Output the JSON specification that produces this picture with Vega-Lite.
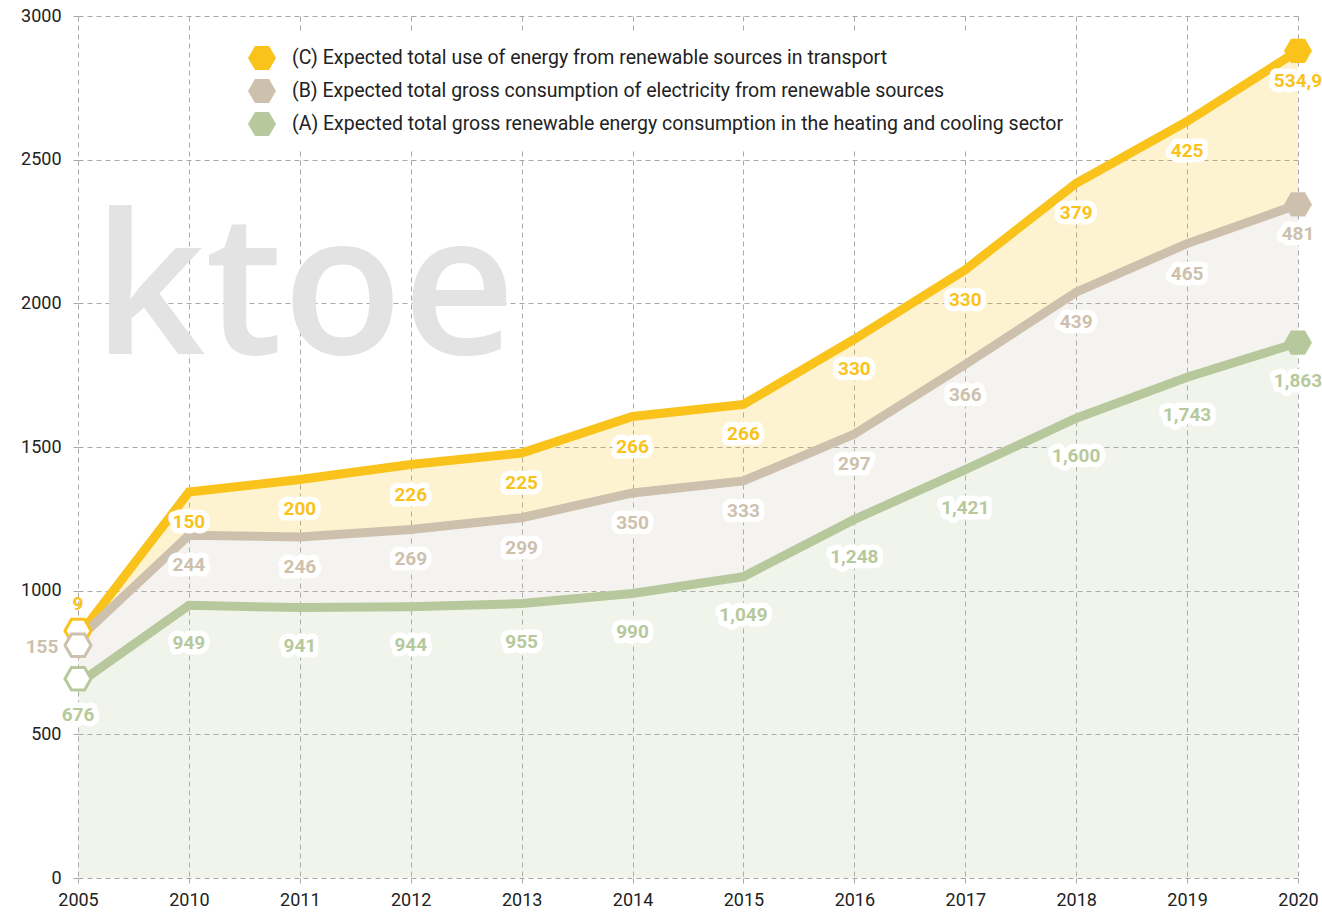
{
  "$schema": "https://vega.github.io/schema/vega-lite/v6.json",
  "width": 1220,
  "height": 862,
  "autosize": {"type": "none"},
  "padding": {"left": 78, "top": 16, "right": 24, "bottom": 37},
  "background": "white",
  "config": {
    "view": {"stroke": null},
    "font": "Roboto",
    "axis": {
      "title": null,
      "domain": false,
      "grid": true,
      "gridDash": [5, 4],
      "gridColor": "#a8a8a8",
      "gridWidth": 1,
      "ticks": true,
      "tickDash": [5, 4],
      "tickColor": "#a8a8a8",
      "tickSize": 8,
      "labelFont": "Roboto",
      "labelFontSize": 18,
      "labelColor": "#222222",
      "labelAngle": 0
    }
  },
  "data": {
    "values": [
      {"year": "2005", "key": "C", "series": "(C) Expected total use of energy from renewable sources in transport", "value": 9, "label": "9"},
      {"year": "2005", "key": "B", "series": "(B) Expected total gross consumption of electricity from renewable sources", "value": 155, "label": "155"},
      {"year": "2005", "key": "A", "series": "(A) Expected total gross renewable energy consumption in the heating and cooling sector", "value": 676, "label": "676"},
      {"year": "2010", "key": "C", "series": "(C) Expected total use of energy from renewable sources in transport", "value": 150, "label": "150"},
      {"year": "2010", "key": "B", "series": "(B) Expected total gross consumption of electricity from renewable sources", "value": 244, "label": "244"},
      {"year": "2010", "key": "A", "series": "(A) Expected total gross renewable energy consumption in the heating and cooling sector", "value": 949, "label": "949"},
      {"year": "2011", "key": "C", "series": "(C) Expected total use of energy from renewable sources in transport", "value": 200, "label": "200"},
      {"year": "2011", "key": "B", "series": "(B) Expected total gross consumption of electricity from renewable sources", "value": 246, "label": "246"},
      {"year": "2011", "key": "A", "series": "(A) Expected total gross renewable energy consumption in the heating and cooling sector", "value": 941, "label": "941"},
      {"year": "2012", "key": "C", "series": "(C) Expected total use of energy from renewable sources in transport", "value": 226, "label": "226"},
      {"year": "2012", "key": "B", "series": "(B) Expected total gross consumption of electricity from renewable sources", "value": 269, "label": "269"},
      {"year": "2012", "key": "A", "series": "(A) Expected total gross renewable energy consumption in the heating and cooling sector", "value": 944, "label": "944"},
      {"year": "2013", "key": "C", "series": "(C) Expected total use of energy from renewable sources in transport", "value": 225, "label": "225"},
      {"year": "2013", "key": "B", "series": "(B) Expected total gross consumption of electricity from renewable sources", "value": 299, "label": "299"},
      {"year": "2013", "key": "A", "series": "(A) Expected total gross renewable energy consumption in the heating and cooling sector", "value": 955, "label": "955"},
      {"year": "2014", "key": "C", "series": "(C) Expected total use of energy from renewable sources in transport", "value": 266, "label": "266"},
      {"year": "2014", "key": "B", "series": "(B) Expected total gross consumption of electricity from renewable sources", "value": 350, "label": "350"},
      {"year": "2014", "key": "A", "series": "(A) Expected total gross renewable energy consumption in the heating and cooling sector", "value": 990, "label": "990"},
      {"year": "2015", "key": "C", "series": "(C) Expected total use of energy from renewable sources in transport", "value": 266, "label": "266"},
      {"year": "2015", "key": "B", "series": "(B) Expected total gross consumption of electricity from renewable sources", "value": 333, "label": "333"},
      {"year": "2015", "key": "A", "series": "(A) Expected total gross renewable energy consumption in the heating and cooling sector", "value": 1049, "label": "1,049"},
      {"year": "2016", "key": "C", "series": "(C) Expected total use of energy from renewable sources in transport", "value": 330, "label": "330"},
      {"year": "2016", "key": "B", "series": "(B) Expected total gross consumption of electricity from renewable sources", "value": 297, "label": "297"},
      {"year": "2016", "key": "A", "series": "(A) Expected total gross renewable energy consumption in the heating and cooling sector", "value": 1248, "label": "1,248"},
      {"year": "2017", "key": "C", "series": "(C) Expected total use of energy from renewable sources in transport", "value": 330, "label": "330"},
      {"year": "2017", "key": "B", "series": "(B) Expected total gross consumption of electricity from renewable sources", "value": 366, "label": "366"},
      {"year": "2017", "key": "A", "series": "(A) Expected total gross renewable energy consumption in the heating and cooling sector", "value": 1421, "label": "1,421"},
      {"year": "2018", "key": "C", "series": "(C) Expected total use of energy from renewable sources in transport", "value": 379, "label": "379"},
      {"year": "2018", "key": "B", "series": "(B) Expected total gross consumption of electricity from renewable sources", "value": 439, "label": "439"},
      {"year": "2018", "key": "A", "series": "(A) Expected total gross renewable energy consumption in the heating and cooling sector", "value": 1600, "label": "1,600"},
      {"year": "2019", "key": "C", "series": "(C) Expected total use of energy from renewable sources in transport", "value": 425, "label": "425"},
      {"year": "2019", "key": "B", "series": "(B) Expected total gross consumption of electricity from renewable sources", "value": 465, "label": "465"},
      {"year": "2019", "key": "A", "series": "(A) Expected total gross renewable energy consumption in the heating and cooling sector", "value": 1743, "label": "1,743"},
      {"year": "2020", "key": "C", "series": "(C) Expected total use of energy from renewable sources in transport", "value": 534.9, "label": "534,9"},
      {"year": "2020", "key": "B", "series": "(B) Expected total gross consumption of electricity from renewable sources", "value": 481, "label": "481"},
      {"year": "2020", "key": "A", "series": "(A) Expected total gross renewable energy consumption in the heating and cooling sector", "value": 1863, "label": "1,863"}
    ]
  },
  "transform": [
    {"stack": "value", "groupby": ["year"], "sort": [{"field": "key", "order": "ascending"}], "as": ["v0", "v1"]}
  ],
  "encoding": {
    "x": {
      "field": "year",
      "type": "ordinal",
      "sort": null,
      "scale": {"type": "point", "padding": 0},
      "axis": {"labelPadding": 5, "tickSize": 8}
    }
  },
  "layer": [
    {
      "transform": [{"filter": "datum.year == '2020' && datum.key == 'A'"}],
      "mark": {"type": "text", "text": "ktoe", "font": "Open Sans", "fontWeight": 600, "fontSize": 196, "align": "left", "baseline": "alphabetic", "dx": 15, "fill": "#e3e3e3"},
      "encoding": {
        "x": {"datum": "2005", "type": "ordinal"},
        "y": {"datum": 1822, "type": "quantitative"}
      }
    },
    {
      "mark": {"type": "area", "fillOpacity": 0.2, "line": false},
      "encoding": {
        "y": {
          "field": "v1",
          "type": "quantitative",
          "scale": {"domain": [0, 3000], "nice": false},
          "axis": {"values": [0, 500, 1000, 1500, 2000, 2500, 3000], "format": "d", "labelPadding": 9, "tickSize": 8}
        },
        "y2": {"field": "v0"},
        "color": {
          "field": "series",
          "type": "nominal",
          "scale": {
            "domain": [
              "(C) Expected total use of energy from renewable sources in transport",
              "(B) Expected total gross consumption of electricity from renewable sources",
              "(A) Expected total gross renewable energy consumption in the heating and cooling sector"
            ],
            "range": ["#f9c31b", "#cdc1ad", "#b7c99c"]
          },
          "legend": {
            "orient": "none",
            "legendX": 158,
            "legendY": 16,
            "title": null,
            "padding": 12,
            "fillColor": "white",
            "strokeColor": null,
            "symbolType": "M-1,0L-0.5,-0.866L0.5,-0.866L1,0L0.5,0.866L-0.5,0.866Z",
            "symbolSize": 784,
            "symbolStrokeWidth": 0,
            "symbolOpacity": 1,
            "labelFont": "Roboto",
            "labelFontSize": 19.5,
            "labelColor": "#222222",
            "labelLimit": 1000,
            "labelOffset": 16,
            "rowPadding": 6,
            "encode": {
              "symbols": {
                "update": {
                  "fill": {"scale": "color", "field": "value"},
                  "fillOpacity": {"value": 1},
                  "opacity": {"value": 1},
                  "strokeWidth": {"value": 0}
                }
              }
            }
          }
        },
        "detail": {"field": "key"}
      }
    },
    {
      "mark": {"type": "line", "strokeWidth": 9, "strokeJoin": "miter", "strokeCap": "butt"},
      "encoding": {
        "y": {"field": "v1", "type": "quantitative"},
        "color": {"field": "series", "type": "nominal"}
      }
    },
    {
      "transform": [{"filter": "datum.year == '2020'"}],
      "mark": {"type": "point", "shape": "M-1,0L-0.5,-0.866L0.5,-0.866L1,0L0.5,0.866L-0.5,0.866Z", "size": 784, "filled": true, "opacity": 1},
      "encoding": {
        "y": {"field": "v1", "type": "quantitative"},
        "color": {"field": "series", "type": "nominal"}
      }
    },
    {
      "transform": [{"filter": "datum.year == '2005' && datum.key == 'C'"}],
      "mark": {"type": "point", "shape": "M-1,0L-0.5,-0.866L0.5,-0.866L1,0L0.5,0.866L-0.5,0.866Z", "size": 680, "filled": false, "fill": "white", "fillOpacity": 1, "strokeWidth": 3, "opacity": 1, "yOffset": -6},
      "encoding": {
        "y": {"field": "v1", "type": "quantitative"},
        "color": {"field": "series", "type": "nominal"}
      }
    },
    {
      "transform": [{"filter": "datum.year == '2005' && datum.key == 'B'"}],
      "mark": {"type": "point", "shape": "M-1,0L-0.5,-0.866L0.5,-0.866L1,0L0.5,0.866L-0.5,0.866Z", "size": 680, "filled": false, "fill": "white", "fillOpacity": 1, "strokeWidth": 3, "opacity": 1, "yOffset": 6},
      "encoding": {
        "y": {"field": "v1", "type": "quantitative"},
        "color": {"field": "series", "type": "nominal"}
      }
    },
    {
      "transform": [{"filter": "datum.year == '2005' && datum.key == 'A'"}],
      "mark": {"type": "point", "shape": "M-1,0L-0.5,-0.866L0.5,-0.866L1,0L0.5,0.866L-0.5,0.866Z", "size": 680, "filled": false, "fill": "white", "fillOpacity": 1, "strokeWidth": 3, "opacity": 1, "yOffset": -5},
      "encoding": {
        "y": {"field": "v1", "type": "quantitative"},
        "color": {"field": "series", "type": "nominal"}
      }
    },
    {
      "transform": [{"filter": "datum.year != '2005' && datum.key == 'A'"}],
      "mark": {"type": "text", "font": "Roboto", "fontWeight": "bold", "fontSize": 19, "baseline": "middle", "align": "center", "dy": 38, "fill": "white", "stroke": "white", "strokeWidth": 11, "strokeJoin": "round"},
      "encoding": {"y": {"field": "v1", "type": "quantitative"}, "text": {"field": "label"}}
    },
    {
      "transform": [{"filter": "datum.year != '2005' && datum.key != 'A'"}],
      "mark": {"type": "text", "font": "Roboto", "fontWeight": "bold", "fontSize": 19, "baseline": "middle", "align": "center", "dy": 30, "fill": "white", "stroke": "white", "strokeWidth": 11, "strokeJoin": "round"},
      "encoding": {"y": {"field": "v1", "type": "quantitative"}, "text": {"field": "label"}}
    },
    {
      "transform": [{"filter": "datum.year == '2005' && datum.key == 'A'"}],
      "mark": {"type": "text", "font": "Roboto", "fontWeight": "bold", "fontSize": 19, "baseline": "middle", "align": "center", "dy": 31, "fill": "white", "stroke": "white", "strokeWidth": 11, "strokeJoin": "round"},
      "encoding": {"y": {"field": "v1", "type": "quantitative"}, "text": {"field": "label"}}
    },
    {
      "transform": [{"filter": "datum.year != '2005' && datum.key == 'A'"}],
      "mark": {"type": "text", "font": "Roboto", "fontWeight": "bold", "fontSize": 19, "baseline": "middle", "align": "center", "dy": 38},
      "encoding": {"y": {"field": "v1", "type": "quantitative"}, "text": {"field": "label"}, "color": {"field": "series", "type": "nominal"}}
    },
    {
      "transform": [{"filter": "datum.year != '2005' && datum.key != 'A'"}],
      "mark": {"type": "text", "font": "Roboto", "fontWeight": "bold", "fontSize": 19, "baseline": "middle", "align": "center", "dy": 30},
      "encoding": {"y": {"field": "v1", "type": "quantitative"}, "text": {"field": "label"}, "color": {"field": "series", "type": "nominal"}}
    },
    {
      "transform": [{"filter": "datum.year == '2005' && datum.key == 'A'"}],
      "mark": {"type": "text", "font": "Roboto", "fontWeight": "bold", "fontSize": 19, "baseline": "middle", "align": "center", "dy": 31},
      "encoding": {"y": {"field": "v1", "type": "quantitative"}, "text": {"field": "label"}, "color": {"field": "series", "type": "nominal"}}
    },
    {
      "transform": [{"filter": "datum.year == '2005' && datum.key == 'B'"}],
      "mark": {"type": "text", "font": "Roboto", "fontWeight": "bold", "fontSize": 19, "baseline": "middle", "align": "center", "dx": -36, "dy": 8},
      "encoding": {"y": {"field": "v1", "type": "quantitative"}, "text": {"field": "label"}, "color": {"field": "series", "type": "nominal"}}
    },
    {
      "transform": [{"filter": "datum.year == '2005' && datum.key == 'C'"}],
      "mark": {"type": "text", "font": "Roboto", "fontWeight": "bold", "fontSize": 19, "baseline": "middle", "align": "center", "dy": -33},
      "encoding": {"y": {"field": "v1", "type": "quantitative"}, "text": {"field": "label"}, "color": {"field": "series", "type": "nominal"}}
    }
  ]
}
